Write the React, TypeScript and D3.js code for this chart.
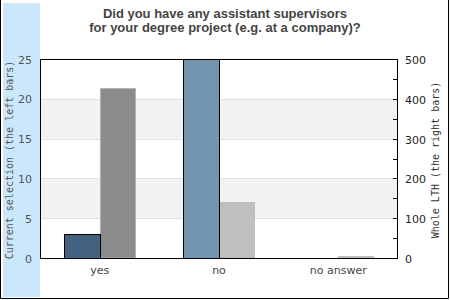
import React from "react";
import * as d3 from "d3";

const categories = ["yes", "no", "no answer"];
const currentSelection = [3, 25, 0];
const wholeLTH = [426, 141, 5];
const leftTicks = [0, 5, 10, 15, 20, 25];
const rightTicks = [0, 100, 200, 300, 400, 500];
const rightMinorTicks = [50, 100, 150, 200, 250, 300, 350, 400, 450];
const leftColors = ["#43627f", "#7395b0", "#7395b0"];
const rightColors = ["#8b8b8b", "#bfbfbf", "#bfbfbf"];
const rightStrokes = ["#b4b4b4", "#bfbfbf", "#bfbfbf"];
const titleLines = [
  "Did you have any assistant supervisors",
  "for your degree project (e.g. at a company)?",
];

const W = 450;
const H = 300;
const PL = 40, PR = 398, PT = 59, PB = 258;

export default function App() {
  const x = d3.scaleBand<string>().domain(categories).range([PL, PR]).padding(0);
  const bw = x.bandwidth();
  const sub = d3.scaleBand<string>().domain(["l", "r"]).range([bw * 0.2, bw * 0.8]).padding(0);
  const yL = d3.scaleLinear().domain([0, 25]).range([PB, PT]);
  const yR = d3.scaleLinear().domain([0, 500]).range([PB, PT]);
  const bands = [[5, 10], [15, 20]];

  return (
    <svg width={W} height={H} style={{ position: "absolute", left: 0, top: 0 }}>
      <rect x={0} y={0} width={W} height={H} fill="#fff" />
      <rect x={3} y={3} width={37} height={294} fill="#cae7fc" />
      <path d={`M0.5,0 V298.5 H448.5 V0`} fill="none" stroke="#000" />
      {titleLines.map((t, i) => (
        <text key={i} x={225} y={17.5 + i * 14} textAnchor="middle"
          fontFamily="Liberation Sans, Arial, sans-serif" fontWeight="bold" fontSize={13} fill="#444">{t}</text>
      ))}
      {bands.map(([a, b], i) => (
        <rect key={i} x={PL} y={yL(b)} width={PR - PL} height={yL(a) - yL(b)} fill="#f2f2f2" />
      ))}
      {leftTicks.slice(1, -1).map((t) => (
        <line key={t} x1={PL} x2={PR} y1={Math.round(yL(t)) + 0.5} y2={Math.round(yL(t)) + 0.5} stroke="#e0e0e0" />
      ))}
      {categories.map((c, i) => {
        const x0 = x(c)!;
        const xl = x0 + sub("l")!;
        const xr = x0 + sub("r")!;
        const sw = sub.bandwidth();
        return (
          <g key={c}>
            {wholeLTH[i] > 0 && (
              <rect x={Math.round(xr) + 0.5} y={Math.round(yR(wholeLTH[i])) + 0.5} width={Math.round(sw) - 1}
                height={PB - Math.round(yR(wholeLTH[i])) - 0.5} fill={rightColors[i]} stroke={rightStrokes[i]} />
            )}
            {currentSelection[i] > 0 && (
              <rect x={Math.round(xl) + 0.5} y={Math.round(yL(currentSelection[i])) + 0.5} width={Math.round(sw)}
                height={PB - Math.round(yL(currentSelection[i]))} fill={leftColors[i]} stroke="#000" />
            )}
          </g>
        );
      })}
      <rect x={PL + 0.5} y={PT + 0.5} width={PR - PL - 1} height={PB - PT} fill="none" stroke="#000" />
      {rightMinorTicks.map((t) => (
        <line key={t} x1={PR - 5} x2={PR} y1={Math.round(yR(t)) + 0.5} y2={Math.round(yR(t)) + 0.5} stroke="#000" />
      ))}
      {leftTicks.map((t) => (
        <text key={t} x={32} y={yL(t) + 4.5} textAnchor="end" fontFamily="DejaVu Sans" fontSize={11} fill="#555">{t}</text>
      ))}
      {rightTicks.map((t) => (
        <text key={t} x={405} y={yR(t) + 5} textAnchor="start" fontFamily="DejaVu Sans" fontSize={11} fill="#222">{t}</text>
      ))}
      {categories.map((c) => (
        <text key={c} x={x(c)! + bw / 2} y={274} textAnchor="middle" fontFamily="DejaVu Sans" fontSize={11} fill="#444">{c}</text>
      ))}
      <text transform={`translate(13,160) rotate(-90)`} textAnchor="middle" fontFamily="DejaVu Sans Mono" fontSize={10} fill="#555">
        Current selection (the left bars)
      </text>
      <text transform={`translate(439,160) rotate(-90)`} textAnchor="middle" fontFamily="DejaVu Sans Mono" fontSize={10} fill="#333">
        Whole LTH (the right bars)
      </text>
    </svg>
  );
}
